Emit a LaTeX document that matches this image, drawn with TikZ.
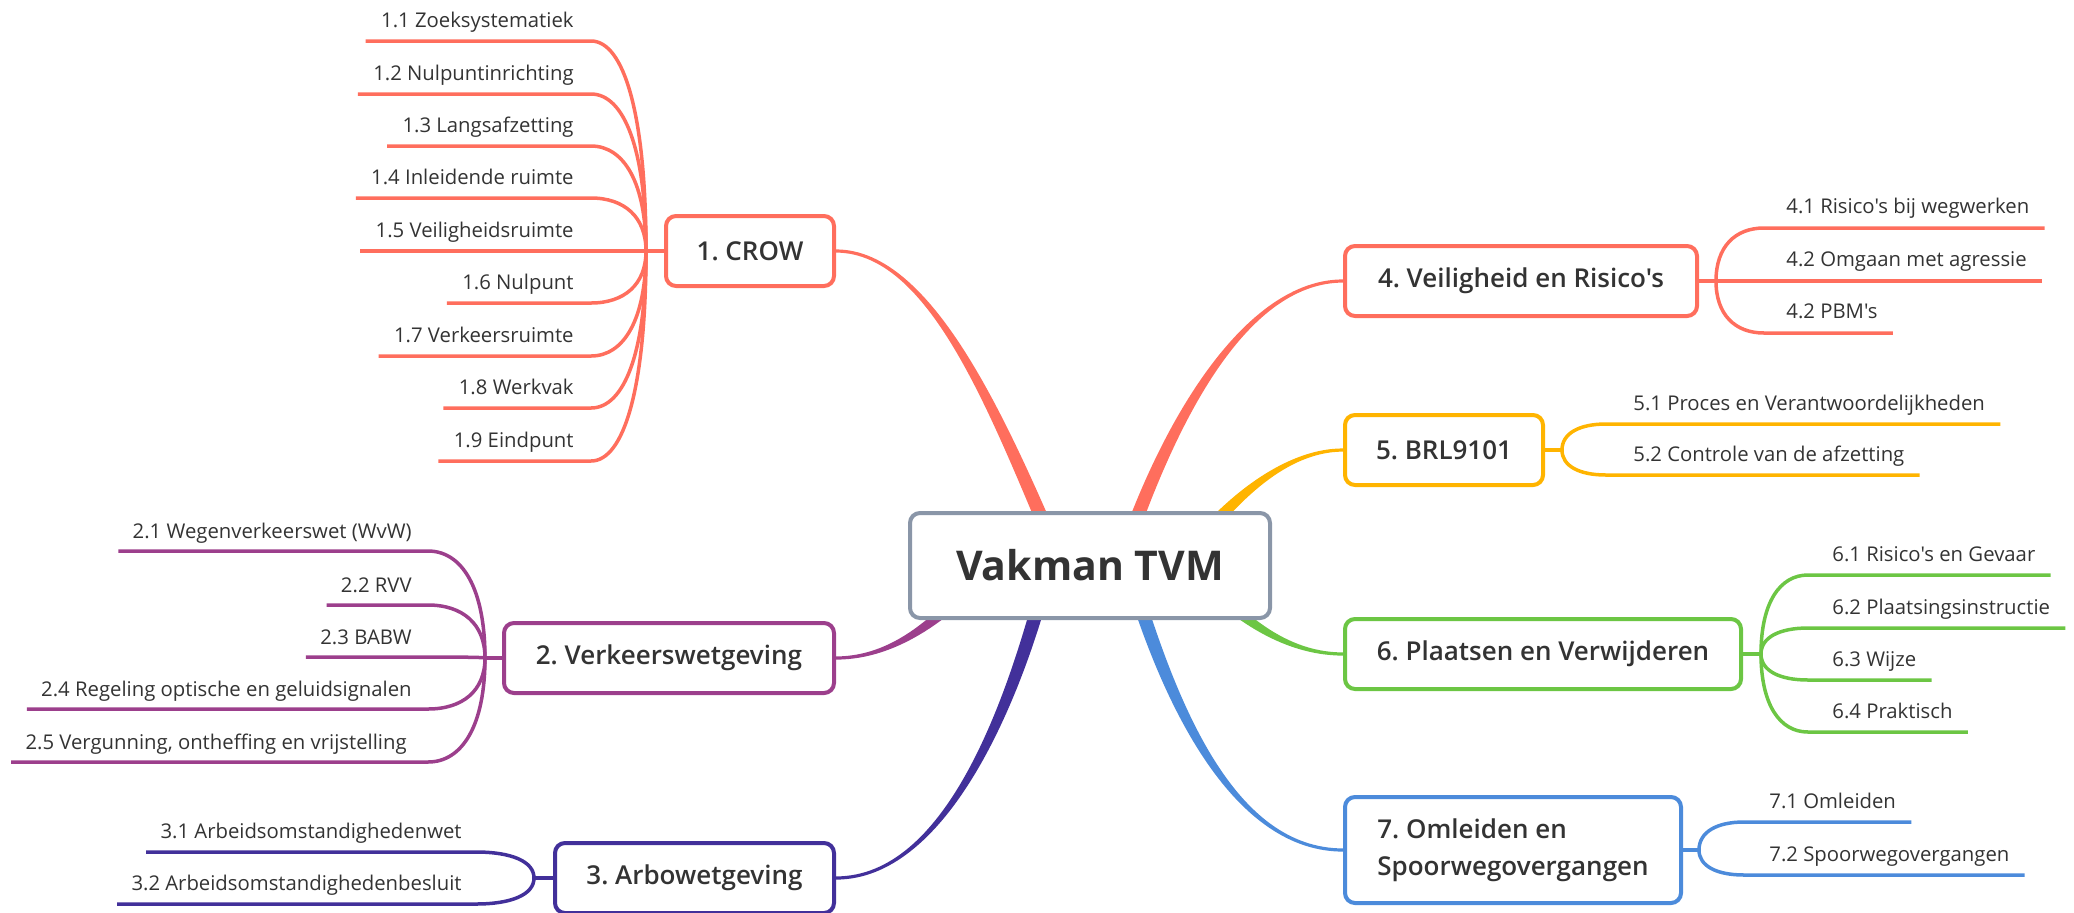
\documentclass[tikz,border=0pt]{standalone}
\usepackage{fontspec}
\setmainfont{Open Sans}
\newfontfamily\labfont{Open Sans}
\IfFontExistsTF{Open Sans SemiBold}{\newfontfamily\topicfont{Open Sans SemiBold}}{%
  \IfFontExistsTF{Open Sans Semibold}{\newfontfamily\topicfont{Open Sans Semibold}}{\newcommand\topicfont{\bfseries}}}
\frenchspacing
\usetikzlibrary{calc,backgrounds}
\definecolor{cRed}{HTML}{FF6E5D}
\definecolor{cPurple}{HTML}{9C3F8C}
\definecolor{cNavy}{HTML}{42309A}
\definecolor{cOrange}{HTML}{FFB400}
\definecolor{cGreen}{HTML}{6CC644}
\definecolor{cBlue}{HTML}{4C8BDB}
\definecolor{cGray}{HTML}{8A96A8}
\definecolor{cText}{HTML}{333333}
\newcommand\tapered[7]{%
  \path ($(#2)!#6!90:(#3)$) coordinate (tpSa)
        ($(#2)!#6!-90:(#3)$) coordinate (tpSb)
        ($(#5)!#7!-90:(#4)$) coordinate (tpEa)
        ($(#5)!#7!90:(#4)$) coordinate (tpEb);
  \fill[#1] (tpSa) .. controls ($(#3)+(tpSa)-(#2)$) and ($(#4)+(tpEa)-(#5)$) .. (tpEa)
     -- (tpEb) .. controls ($(#4)+(tpEb)-(#5)$) and ($(#3)+(tpSb)-(#2)$) .. (tpSb) -- cycle;}
\tikzset{
  rootbox/.style={draw=cGray, line width=2pt, rounded corners=5pt, fill=white,
    minimum width=180pt, minimum height=52.5pt, inner sep=0pt,
    font=\fontsize{20.5}{24}\selectfont\bfseries, text=cText},
  topic/.style={draw=#1, line width=2pt, rounded corners=5pt, fill=white,
    minimum height=35pt, inner sep=0pt, font=\fontsize{13}{18.5}\topicfont, text=cText},
  lab/.style={font=\fontsize{10.15}{12}\labfont, text=cText, inner sep=0pt},
  sub/.style={draw=#1, line width=1.75pt},
}
\begin{document}
\begin{tikzpicture}[x=0.5pt, y=-0.5pt]
\useasboundingbox (0,0) rectangle (2074,912);
% root and topics
\node[rootbox] (root) at (1090,565.5) {Vakman TVM};
\node[topic=cRed, minimum width=84pt] (t1) at (750,251) {1. CROW};
\node[topic=cPurple, minimum width=165pt] (t2) at (669,658) {2. Verkeerswetgeving};
\node[topic=cNavy, minimum width=139.5pt] (t3) at (694.5,878) {3. Arbowetgeving};
\node[topic=cRed, minimum width=176pt] (t4) at (1521,281) {4. Veiligheid en Risico's};
\node[topic=cOrange, minimum width=99pt] (t5) at (1444,450) {5. BRL9101};
\node[topic=cGreen, minimum width=198pt] (t6) at (1543,654) {6. Plaatsen en Verwijderen};
\node[topic=cBlue, minimum width=168pt, minimum height=53pt, align=left] (t7) at (1513,850) {7. Omleiden en\\Spoorwegovergangen};

% labels
\foreach \yy/\lbl [count=\i] in {41/1.1 Zoeksystematiek, 94/1.2 Nulpuntinrichting, 146/1.3 Langsafzetting,
   198/1.4 Inleidende ruimte, 251/1.5 Veiligheidsruimte, 303/1.6 Nulpunt, 356/1.7 Verkeersruimte,
   408/1.8 Werkvak, 461/1.9 Eindpunt}
  \node[lab, anchor=base east] (l1\i) at (574,\yy-14) {\lbl};
\foreach \yy/\xx/\lbl [count=\i] in {551/412/2.1 Wegenverkeerswet (WvW), 605/412/2.2 RVV, 657/412/2.3 BABW,
   709/412/2.4 Regeling optische en geluidsignalen, 762/407/{2.5 Vergunning, ontheffing en vrijstelling}}
  \node[lab, anchor=base east] (l2\i) at (\xx,\yy-13) {\lbl};
\foreach \yy/\lbl [count=\i] in {852/3.1 Arbeidsomstandighedenwet, 904/3.2 Arbeidsomstandighedenbesluit}
  \node[lab, anchor=base east] (l3\i) at (462,\yy-14) {\lbl};
\foreach \yy/\lbl [count=\i] in {228/4.1 Risico's bij wegwerken, 281/4.2 Omgaan met agressie, 333/4.2 PBM's}
  \node[lab, anchor=base west] (l4\i) at (1786,\yy-15) {\lbl};
\foreach \yy/\lbl [count=\i] in {424/5.1 Proces en Verantwoordelijkheden, 475/5.2 Controle van de afzetting}
  \node[lab, anchor=base west] (l5\i) at (1633,\yy-14) {\lbl};
\foreach \yy/\lbl [count=\i] in {575/6.1 Risico's en Gevaar, 628/6.2 Plaatsingsinstructie, 680/6.3 Wijze, 732/6.4 Praktisch}
  \node[lab, anchor=base west] (l6\i) at (1832,\yy-14) {\lbl};
\foreach \yy/\lbl [count=\i] in {822/7.1 Omleiden, 875/7.2 Spoorwegovergangen}
  \node[lab, anchor=base west] (l7\i) at (1769,\yy-14) {\lbl};

\begin{scope}[on background layer]
% main tapered branches
\coordinate (s1) at ($(root.center)+(-28,0)$); \coordinate (a1) at (1002,427); \coordinate (b1) at (934,251);
\tapered{cRed}{s1}{a1}{b1}{t1.east}{3.5pt}{0.8pt}
\coordinate (s4) at ($(root.center)+(30,0)$); \coordinate (a4) at (1167,423); \coordinate (b4) at (1245,281);
\tapered{cRed}{s4}{a4}{b4}{t4.west}{3.5pt}{0.8pt}
\coordinate (s5) at ($(root.center)+(90,0)$); \coordinate (a5) at (1220,510); \coordinate (b5) at (1280,450);
\tapered{cOrange}{s5}{a5}{b5}{t5.west}{3.5pt}{0.8pt}
\coordinate (s6) at ($(root.center)+(100,0)$); \coordinate (a6) at (1230,610); \coordinate (b6) at (1280,654);
\tapered{cGreen}{s6}{a6}{b6}{t6.west}{3.5pt}{0.8pt}
\coordinate (s7) at ($(root.center)+(38,0)$); \coordinate (a7) at (1170,709); \coordinate (b7) at (1235,850);
\tapered{cBlue}{s7}{a7}{b7}{t7.west}{3.5pt}{0.8pt}
\coordinate (s3) at ($(root.center)+(-41,0)$); \coordinate (a3) at (1013,709); \coordinate (b3) at (944,878);
\tapered{cNavy}{s3}{a3}{b3}{t3.east}{3.5pt}{0.8pt}
\coordinate (s2) at ($(root.center)+(-100,0)$); \coordinate (a2) at (950,610); \coordinate (b2) at (900,658);
\tapered{cPurple}{s2}{a2}{b2}{t2.east}{3.5pt}{0.8pt}

% sub branches
\coordinate (h1) at (646,251);
\draw[sub=cRed] (t1.west) -- (h1);
\foreach \i/\yy in {1/41,2/94,3/146,4/198,5/251,6/303,7/356,8/408,9/461}{
  \coordinate (c1\i) at (591,\yy);
  \draw[sub=cRed] (h1) .. controls ($(h1)!0.65!(h1|-c1\i)$) and ($(c1\i)!0.6!(h1|-c1\i)$) .. (c1\i)
     -- ($(c1\i -| l1\i.west)+(-15,0)$);}
\coordinate (h2) at (485,658);
\draw[sub=cPurple] (t2.west) -- (h2);
\foreach \i/\yy in {1/551,2/605,3/657,4/709,5/762}{
  \coordinate (c2\i) at (428,\yy);
  \draw[sub=cPurple] (h2) .. controls ($(h2)!0.65!(h2|-c2\i)$) and ($(c2\i)!0.6!(h2|-c2\i)$) .. (c2\i)
     -- ($(c2\i -| l2\i.west)+(-14,0)$);}
\coordinate (h3) at (534,878);
\draw[sub=cNavy] (t3.west) -- (h3);
\foreach \i/\yy in {1/852,2/904}{
  \coordinate (c3\i) at (476,\yy);
  \draw[sub=cNavy] (h3) .. controls ($(h3)!0.65!(h3|-c3\i)$) and ($(c3\i)!0.6!(h3|-c3\i)$) .. (c3\i)
     -- ($(c3\i -| l3\i.west)+(-14,0)$);}
\coordinate (h4) at (1716,281);
\draw[sub=cRed] (t4.east) -- (h4);
\foreach \i/\yy in {1/228,2/281,3/333}{
  \coordinate (c4\i) at (1764,\yy);
  \draw[sub=cRed] (h4) .. controls ($(h4)!0.65!(h4|-c4\i)$) and ($(c4\i)!0.6!(h4|-c4\i)$) .. (c4\i)
     -- ($(c4\i -| l4\i.east)+(15,0)$);}
\coordinate (h5) at (1562,450);
\draw[sub=cOrange] (t5.east) -- (h5);
\foreach \i/\yy in {1/424,2/475}{
  \coordinate (c5\i) at (1606,\yy);
  \draw[sub=cOrange] (h5) .. controls ($(h5)!0.65!(h5|-c5\i)$) and ($(c5\i)!0.6!(h5|-c5\i)$) .. (c5\i)
     -- ($(c5\i -| l5\i.east)+(15,0)$);}
\coordinate (h6) at (1761,654);
\draw[sub=cGreen] (t6.east) -- (h6);
\foreach \i/\yy in {1/575,2/628,3/680,4/732}{
  \coordinate (c6\i) at (1808,\yy);
  \draw[sub=cGreen] (h6) .. controls ($(h6)!0.65!(h6|-c6\i)$) and ($(c6\i)!0.6!(h6|-c6\i)$) .. (c6\i)
     -- ($(c6\i -| l6\i.east)+(15,0)$);}
\coordinate (h7) at (1699,850);
\draw[sub=cBlue] (t7.east) -- (h7);
\foreach \i/\yy in {1/822,2/875}{
  \coordinate (c7\i) at (1744,\yy);
  \draw[sub=cBlue] (h7) .. controls ($(h7)!0.65!(h7|-c7\i)$) and ($(c7\i)!0.6!(h7|-c7\i)$) .. (c7\i)
     -- ($(c7\i -| l7\i.east)+(15,0)$);}
\end{scope}
\end{tikzpicture}
\end{document}
